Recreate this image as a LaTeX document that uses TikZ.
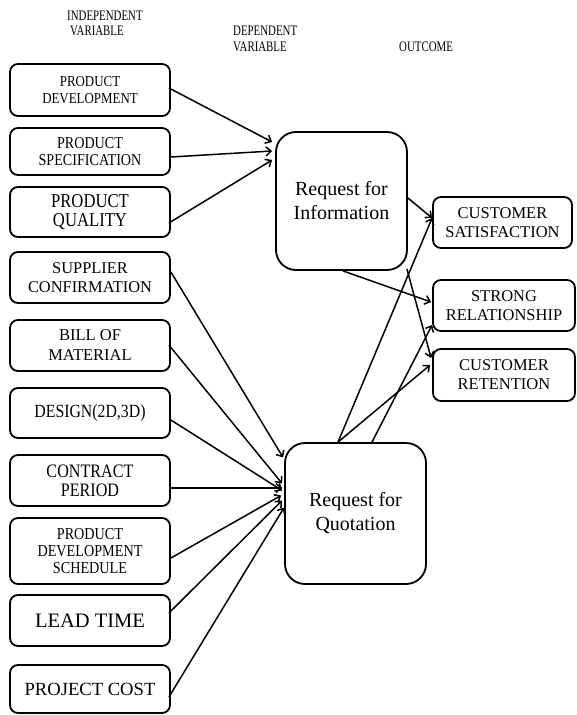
\documentclass[tikz,border=0pt]{standalone}
\usepackage{fontspec}
\setmainfont{Liberation Serif}
\newfontfamily\cfont[FakeStretch=0.85]{Liberation Serif}
\newfontfamily\hfont[FakeStretch=0.75]{Liberation Serif}
\usetikzlibrary{arrows.meta,calc}
\tikzset{
  box/.style={draw, line width=1.8pt, rounded corners=8pt, minimum width=160pt, align=center, inner sep=0pt},
  outbox/.style={draw, line width=1.8pt, rounded corners=8pt, align=center, inner sep=0pt, font=\fontsize{16.5}{19}\selectfont},
  bigbox/.style={draw, line width=1.8pt, rounded corners=20pt, align=center, inner sep=0pt, font=\fontsize{20}{24}\selectfont},
  hdr/.style={anchor=base west, inner sep=0pt, font=\hfont\fontsize{14.5}{15}\selectfont},
  arr/.style={line width=1.5pt, -{Straight Barb[length=5pt,width=9pt]}}
}
\begin{document}
\begin{tikzpicture}[x=1pt,y=-1pt]
\useasboundingbox (0,0) rectangle (576,715);
% headers
\node[hdr] (h1a) at (67,20.7) {INDEPENDENT};
\node[hdr] (h1b) at (70,35) {VARIABLE};
\node[hdr] (h2a) at (233,35) {DEPENDENT};
\node[hdr] (h2b) at (233,51.5) {VARIABLE};
\node[hdr] (h3) at (399,51.5) {OUTCOME};
% independent variables
\node[box, minimum height=52pt, font=\cfont\fontsize{15.2}{17.7}\selectfont] (pd) at (90,90) {PRODUCT\\DEVELOPMENT};
\node[box, minimum height=47pt, font=\cfont\fontsize{16.6}{17}\selectfont] (ps) at (90,151.5) {PRODUCT\\SPECIFICATION};
\node[box, minimum height=50pt, font=\cfont\fontsize{19.6}{19.5}\selectfont] (pq) at (90,212) {PRODUCT\\QUALITY};
\node[box, minimum height=51pt, font=\fontsize{16.4}{19}\selectfont] (sc) at (90,277.5) {SUPPLIER\\CONFIRMATION};
\node[box, minimum height=51pt, font=\fontsize{16.5}{20}\selectfont] (bom) at (90,345.5) {BILL OF\\MATERIAL};
\node[box, minimum height=50pt, font=\cfont\fontsize{18.6}{20}\selectfont] (des) at (90,413) {DESIGN(2D,3D)};
\node[box, minimum height=51pt, font=\cfont\fontsize{19}{19.3}\selectfont] (cp) at (90,480.5) {CONTRACT\\PERIOD};
\node[box, minimum height=66pt, font=\cfont\fontsize{16.7}{16.7}\selectfont] (pds) at (90,551) {PRODUCT\\DEVELOPMENT\\SCHEDULE};
\node[box, minimum height=51pt, font=\fontsize{20.5}{22}\selectfont] (lt) at (90,620.5) {LEAD TIME};
\node[box, minimum height=48pt, font=\fontsize{18.6}{22}\selectfont] (pc) at (90,689) {PROJECT COST};
% dependent variables
\node[bigbox, minimum width=131pt, minimum height=138pt] (rfi) at (341.5,201) {Request for\\Information};
\node[bigbox, minimum width=141pt, minimum height=141pt] (rfq) at (355.5,513.5) {Request for\\Quotation};
% outcomes
\node[outbox, minimum width=139pt, minimum height=51pt] (cs) at (502.5,222.5) {CUSTOMER\\SATISFACTION};
\node[outbox, minimum width=142pt, minimum height=51pt] (sr) at (504,305.5) {STRONG\\RELATIONSHIP};
\node[outbox, minimum width=142pt, minimum height=52pt] (cr) at (504,375) {CUSTOMER\\RETENTION};
% arrows to RFI
\draw[arr] ($(pd.east)+(-2,-2)$) -- ($(rfi.west)+(-3,-59)$);
\draw[arr] ($(ps.east)+(0,5.5)$) -- ($(rfi.west)+(-3,-50)$);
\draw[arr] ($(pq.east)+(-2,11)$) -- ($(rfi.west)+(-3,-41)$);
% arrows to RFQ
\draw[arr] ($(sc.east)+(0,-5.5)$) -- ($(rfq.west)+(-1,-56)$);
\draw[arr] ($(bom.east)+(-2,-0.5)$) -- ($(rfq.west)+(-2,-30)$);
\draw[arr] ($(des.east)+(0,7)$) -- ($(rfq.west)+(-2,-23)$);
\draw[arr] ($(cp.east)+(-2,7.5)$) -- ($(rfq.west)+(-2,-25.5)$);
\draw[arr] ($(pds.east)+(0,7)$) -- ($(rfq.west)+(-3,-18)$);
\draw[arr] ($(lt.east)+(-2,-7.5)$) -- ($(rfq.west)+(-2,-13)$);
\draw[arr] ($(pc.east)+(-2,8)$) -- ($(rfq.west)+(0,-6)$);
% RFI to outcomes
\draw[arr] ($(rfi.east)+(0,-3)$) -- ($(cs.west)+(0,-4.5)$);
\draw[arr] ($(rfi.south)+(1.5,0)$) -- ($(sr.west)+(-1,-3.5)$);
\draw[arr] ($(rfi.south east)+(-1,-2)$) -- ($(cr.west)+(-1,-17)$);
% RFQ to outcomes
\draw[arr] ($(rfq.north)+(-17.5,0)$) -- ($(cs.west)+(0,-4.5)$);
\draw[arr] ($(rfq.north)+(-17.5,0)$) -- ($(cr.west)+(-2,-10)$);
\draw[arr] ($(rfq.north)+(16.5,0)$) -- ($(sr.west)+(0,19.5)$);
\end{tikzpicture}
\end{document}
